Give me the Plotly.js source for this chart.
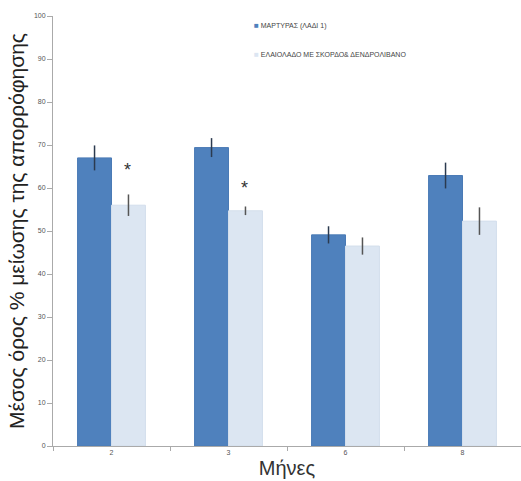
<!DOCTYPE html>
<html>
<head>
<meta charset="utf-8">
<script src="https://cdn.plot.ly/plotly-3.0.1.min.js"></script>
<style>html,body{margin:0;padding:0;background:#fff;}#chart{width:521px;height:481px;}</style>
</head>
<body>
<div id="chart"></div>
<script>
var months = ["2", "3", "6", "8"];
var seriesNames = ["ΜΑΡΤΥΡΑΣ (ΛΑΔΙ 1)", "ΕΛΑΙΟΛΑΔΟ ΜΕ ΣΚΟΡΔΟ& ΔΕΝΔΡΟΛΙΒΑΝΟ"];
var seriesColors = ["#4f81bd", "#dce6f2"];
var controlMeans = [67.0, 69.4, 49.1, 62.9];
var controlErr = [2.9, 2.2, 2.0, 3.0];
var treatMeans = [56.0, 54.7, 46.5, 52.3];
var treatErr = [2.5, 1.0, 2.0, 3.2];
var starMonths = ["2", "3"];
var starY = [64.2, 60.0];
var yTicks = [0, 10, 20, 30, 40, 50, 60, 70, 80, 90, 100];

var traces = [
  {type: "bar", name: seriesNames[0], x: months, y: controlMeans,
   marker: {color: seriesColors[0], line: {color: "#4a7ab5", width: 1}},
   error_y: {type: "data", array: controlErr, visible: true, color: "#2b3a4f", thickness: 1.5, width: 0}},
  {type: "bar", name: seriesNames[1], x: months, y: treatMeans,
   marker: {color: seriesColors[1], line: {color: "#d3deec", width: 1}},
   error_y: {type: "data", array: treatErr, visible: true, color: "#555", thickness: 1.5, width: 0}}
];

var annotations = starMonths.map(function (m, i) {
  return {x: months.indexOf(m), y: starY[i], xref: "x", yref: "y", text: "*", showarrow: false,
          xshift: 16, font: {size: 18, color: "#333", family: "Liberation Sans, Arial"}};
});
// legend entries (small square marker + label), as in the reference
var legendY = [0.978, 0.91];
seriesNames.forEach(function (n, i) {
  annotations.push({xref: "paper", yref: "paper", x: 0.425, y: legendY[i], xanchor: "left", yanchor: "middle",
    showarrow: false, align: "left",
    text: "<span style='color:" + seriesColors[i] + ";font-size:8px'>■</span> " + n,
    font: {size: 7, color: "#444", family: "Liberation Sans, Arial"}});
});

var layout = {
  width: 521, height: 481,
  margin: {l: 53, r: 0, t: 16, b: 35},
  paper_bgcolor: "#fff", plot_bgcolor: "#fff",
  barmode: "group", bargap: 0.42, bargroupgap: 0,
  showlegend: false,
  xaxis: {type: "category", showline: true, linecolor: "#aaa", linewidth: 1,
          ticks: "outside", tickson: "boundaries", ticklen: 4, tickcolor: "#aaa",
          tickfont: {size: 7, color: "#555"}, showgrid: false,
          title: {text: "Μήνες", font: {size: 20, color: "#333", family: "Liberation Sans, Arial"}, standoff: 5}},
  yaxis: {range: [0, 100], tickvals: yTicks, showline: true, linecolor: "#aaa", linewidth: 1,
          ticks: "outside", ticklen: 5, tickcolor: "#aaa", showgrid: false, zeroline: false,
          tickfont: {size: 7, color: "#555"},
          title: {text: "Μέσος όρος % μείωσης της απορρόφησης", font: {size: 21, color: "#222", family: "Liberation Sans, Arial"}, standoff: 3}},
  annotations: annotations,
  font: {family: "Liberation Sans, Arial"}
};

Plotly.newPlot("chart", traces, layout, {displayModeBar: false, staticPlot: true});
</script>
</body>
</html>
